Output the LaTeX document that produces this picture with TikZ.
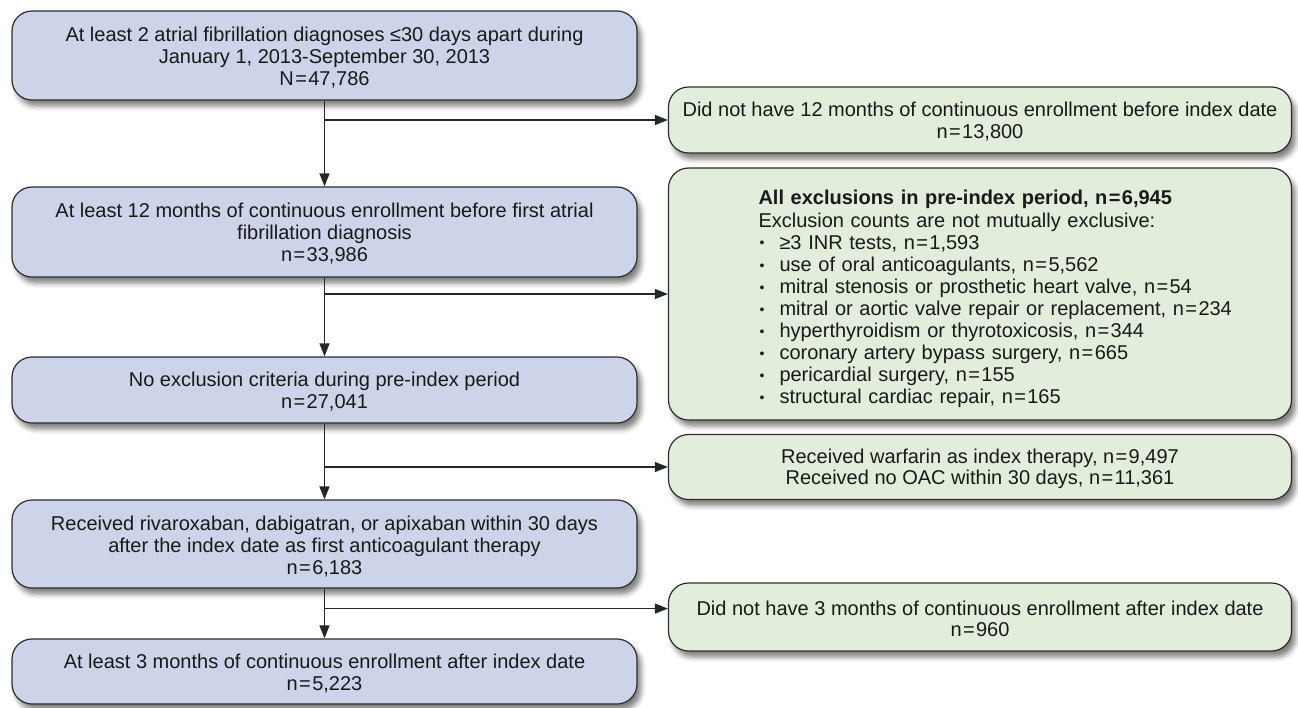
\documentclass[tikz,border=0pt]{standalone}
\usepackage{fontspec}
\setmainfont{Liberation Sans}
\usetikzlibrary{arrows.meta,shadows.blur}
\definecolor{boxblue}{RGB}{205,211,233}
\definecolor{boxgreen}{RGB}{226,237,219}
\definecolor{edgegray}{RGB}{45,45,45}
\newcommand{\mainfnt}{\fontsize{20}{21.8}\selectfont}
\newcommand{\eq}{\hspace{1.4pt}=\hspace{1.4pt}}
\newcommand{\bul}{\makebox[21pt][l]{\hspace*{1pt}\raisebox{1.2pt}{\fontsize{14}{14}\selectfont\textbullet}}}
\begin{document}
\begin{tikzpicture}[x=1pt,y=-1pt,
  box/.style={draw=edgegray, line width=1.2pt, rounded corners=20pt, align=center,
    font=\mainfnt, text=black!90, inner sep=0pt, minimum width=625pt,
    blur shadow={shadow xshift=4pt, shadow yshift=-6pt, shadow blur radius=5pt, shadow opacity=50}},
  bluebox/.style={box, fill=boxblue},
  greenbox/.style={box, fill=boxgreen, minimum width=623pt},
  flow/.style={line width=1.2pt, draw=black!85},
  arr/.style={flow, -{Triangle[length=13pt,width=10pt]}}]
\useasboundingbox (0,0) rectangle (1298,707);

% main flow (left column)
\node[bluebox, minimum height=89pt] (A) at (324.5,55.5)
  {\rule{0pt}{19pt}At least 2 atrial fibrillation diagnoses \symbol{"2264}30 days apart during\\January 1, 2013-September 30, 2013\\N\eq47,786};
\node[bluebox, minimum height=90pt] (B) at (324.5,232)
  {\rule{0pt}{18pt}At least 12 months of continuous enrollment before first atrial\\fibrillation diagnosis\\n\eq33,986};
\node[bluebox, minimum height=66pt] (E) at (324.5,390)
  {\rule{0pt}{18pt}No exclusion criteria during pre-index period\\n\eq27,041};
\node[bluebox, minimum height=88pt] (F) at (324.5,544)
  {\rule{0pt}{19pt}Received rivaroxaban, dabigatran, or apixaban within 30 days\\after the index date as first anticoagulant therapy\\n\eq6,183};
\node[bluebox, minimum height=65pt] (H) at (324.5,671.5)
  {\rule{0pt}{18pt}At least 3 months of continuous enrollment after index date\\n\eq5,223};

% exclusions (right column)
\node[greenbox, minimum height=66pt] (C) at (980,120)
  {\rule{0pt}{18pt}Did not have 12 months of continuous enrollment before index date\\n\eq13,800};
\node[greenbox, minimum height=252pt, text width=623pt, align=left, font=\fontsize{20}{22.1}\selectfont] (D) at (980,294)
  {\leftskip=90pt
   \rule{0pt}{25pt}\textbf{All exclusions in pre-index period, n\eq6,945}\\
   Exclusion counts are not mutually exclusive:\\
   \bul\symbol{"2265}3 INR tests, n\eq1,593\\
   \bul use of oral anticoagulants, n\eq5,562\\
   \bul mitral stenosis or prosthetic heart valve, n\eq54\\
   \bul mitral or aortic valve repair or replacement, n\eq234\\
   \bul hyperthyroidism or thyrotoxicosis, n\eq344\\
   \bul coronary artery bypass surgery, n\eq665\\
   \bul pericardial surgery, n\eq155\\
   \bul structural cardiac repair, n\eq165\par};
\node[greenbox, minimum height=65pt] (G) at (980,467)
  {\rule{0pt}{18pt}Received warfarin as index therapy, n\eq9,497\\Received no OAC within 30 days, n\eq11,361};
\node[greenbox, minimum height=68pt] (I) at (980,617)
  {\rule{0pt}{18pt}Did not have 3 months of continuous enrollment after index date\\n\eq960};

% branch points
\coordinate (b1) at (A.south |- C.west);
\coordinate (b2) at (B.south |- D.west);
\coordinate (b3) at (E.south |- G.west);
\coordinate (b4) at ([yshift=-20pt]F.south);

% connectors
\draw[arr] (A.south) -- (B.north);
\draw[arr] (b1) -- (C.west);
\draw[arr] (B.south) -- (E.north);
\draw[arr] (b2) -- (D.west);
\draw[arr] (E.south) -- (F.north);
\draw[arr] (b3) -- (G.west);
\draw[arr] (F.south) -- (H.north);
\draw[arr] (b4) -- (b4 -| I.west);
\end{tikzpicture}
\end{document}
